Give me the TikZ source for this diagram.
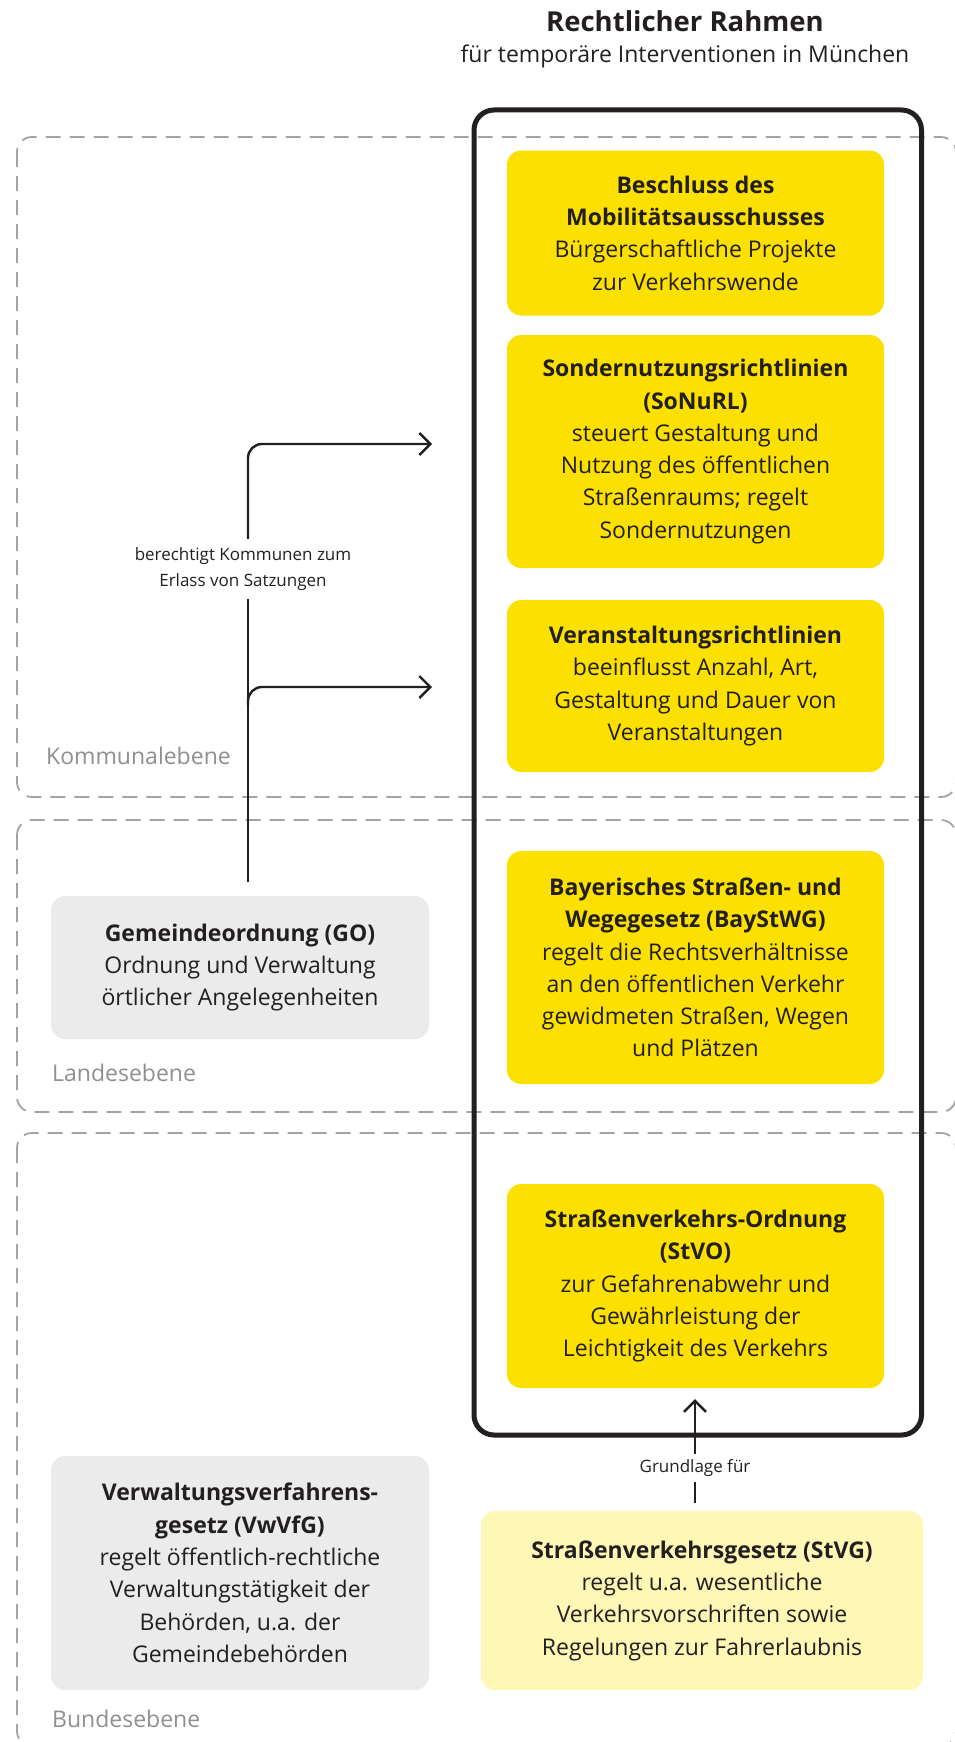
\documentclass[tikz,border=0pt]{standalone}
\usepackage{fontspec}
\setmainfont{Open Sans}
\usetikzlibrary{arrows.meta}

\definecolor{ink}{HTML}{231F20}
\definecolor{lawyellow}{HTML}{FCE000}
\definecolor{paleyellow}{HTML}{FFF7B5}
\definecolor{boxgray}{HTML}{EBEBEB}
\definecolor{levelgray}{HTML}{8F8F8F}
\definecolor{dashgray}{HTML}{A3A3A3}

\newcommand\lawbody{\fontsize{23}{32.3}\selectfont}
\newcommand\lawsmall{\fontsize{17}{26}\selectfont}
\newcommand\lawtitle{\fontsize{27.5}{32}\selectfont\bfseries}

\tikzset{
  lawbox/.style={rounded corners=14pt, align=center, text=ink, inner sep=0pt,
                 font=\lawbody},
  yellowbox/.style={lawbox, fill=lawyellow, minimum width=377pt},
  palebox/.style={lawbox, fill=paleyellow},
  graybox/.style={lawbox, fill=boxgray, minimum width=378pt},
  levelframe/.style={draw=dashgray, line width=1.8pt, dash pattern=on 15pt off 9pt,
                     rounded corners=15pt},
  levellabel/.style={text=levelgray, font=\lawbody, anchor=base west, inner sep=0pt},
  frame/.style={draw=ink, line width=5pt, rounded corners=20pt},
  conn/.style={draw=ink, line width=2.4pt},
  arrowed/.style={-{Straight Barb[length=11pt,width=22pt]}},
  note/.style={text=ink, font=\lawsmall, align=center, inner xsep=2pt},
}

\begin{document}
\begin{tikzpicture}[x=1pt, y=-1pt]
\useasboundingbox (0,0) rectangle (954,1742);

% heading
\node[text=ink, font=\lawtitle, anchor=base] (title) at (685,32) {Rechtlicher Rahmen};
\node[text=ink, font=\lawbody, anchor=base] (subtitle) at (685,63)
  {für temporäre Interventionen in München};

% government levels
\draw[levelframe] (17,137) rectangle (956,797);
\draw[levelframe] (17,820) rectangle (956,1112);
\draw[levelframe] (17,1133) rectangle (956,1746);
\node[levellabel] (kommunal) at (46,764) {Kommunalebene};
\node[levellabel] (landes) at (52,1081) {Landesebene};
\node[levellabel] (bundes) at (52,1727) {Bundesebene};

% frame around the rules that apply directly
\draw[frame] (474,110) rectangle (921.5,1435);

\node[yellowbox, minimum height=165pt] (beschluss) at (695.5,233)
  {\textbf{Beschluss des}\\\textbf{Mobilitätsausschusses}\\Bürgerschaftliche Projekte\\zur Verkehrswende};
\node[yellowbox, minimum height=233pt] (sonurl) at (695.5,451.5)
  {\textbf{Sondernutzungsrichtlinien}\\\textbf{(SoNuRL)}\\steuert Gestaltung und\\Nutzung des öffentlichen\\Straßenraums; regelt\\Sondernutzungen};
\node[yellowbox, minimum height=172pt] (veranst) at (695.5,686)
  {\textbf{Veranstaltungsrichtlinien}\\beeinflusst Anzahl, Art,\\Gestaltung und Dauer von\\Veranstaltungen};
\node[yellowbox, minimum height=233pt] (baystwg) at (695.5,967.5)
  {\textbf{Bayerisches Straßen- und}\\\textbf{Wegegesetz (BayStWG)}\\regelt die Rechtsverhältnisse\\an den öffentlichen Verkehr\\gewidmeten Straßen, Wegen\\und Plätzen};
\node[yellowbox, minimum height=204pt] (stvo) at (695.5,1286)
  {\textbf{Straßenverkehrs-Ordnung}\\\textbf{(StVO)}\\zur Gefahrenabwehr und\\Gewährleistung der\\Leichtigkeit des Verkehrs};

% laws outside the frame
\node[graybox, minimum height=143pt] (go) at (240,967.5)
  {\textbf{Gemeindeordnung (GO)}\\Ordnung und Verwaltung\\örtlicher Angelegenheiten};
\node[graybox, minimum height=234pt] (vwvfg) at (240,1573)
  {\textbf{Verwaltungsverfahrens-}\\\textbf{gesetz (VwVfG)}\\regelt öffentlich-rechtliche\\Verwaltungstätigkeit der\\Behörden, u.a. der\\Gemeindebehörden};
\node[palebox, minimum width=442pt, minimum height=179pt] (stvg) at (702,1600.5)
  {\textbf{Straßenverkehrsgesetz (StVG)}\\regelt u.a. wesentliche\\Verkehrsvorschriften sowie\\Regelungen zur Fahrerlaubnis};

% GO authorises the municipal statutes
\coordinate (goTop) at (248,882);
\coordinate (verFork) at (248,705);
\coordinate (toSonurl) at (432,444);
\coordinate (toVeranst) at (432,687);
\node[note, inner ysep=8.5pt] (grant) at (243,569)
  {berechtigt Kommunen zum\\Erlass von Satzungen};
\draw[conn] (goTop) -- (goTop |- grant.south);
\draw[conn, arrowed, rounded corners=14pt] (goTop |- grant.north) |- (toSonurl);
\draw[conn, arrowed, rounded corners=14pt] (verFork) |- (toVeranst);

% StVG is the basis for the StVO
\node[note, inner ysep=5.5pt] (basis) at (695,1468) {Grundlage für};
\draw[conn, shorten <=8pt] (basis |- stvg.north) -- (basis.south);
\draw[conn, arrowed, shorten >=11pt] (basis.north) -- (basis |- stvo.south);
\end{tikzpicture}
\end{document}
